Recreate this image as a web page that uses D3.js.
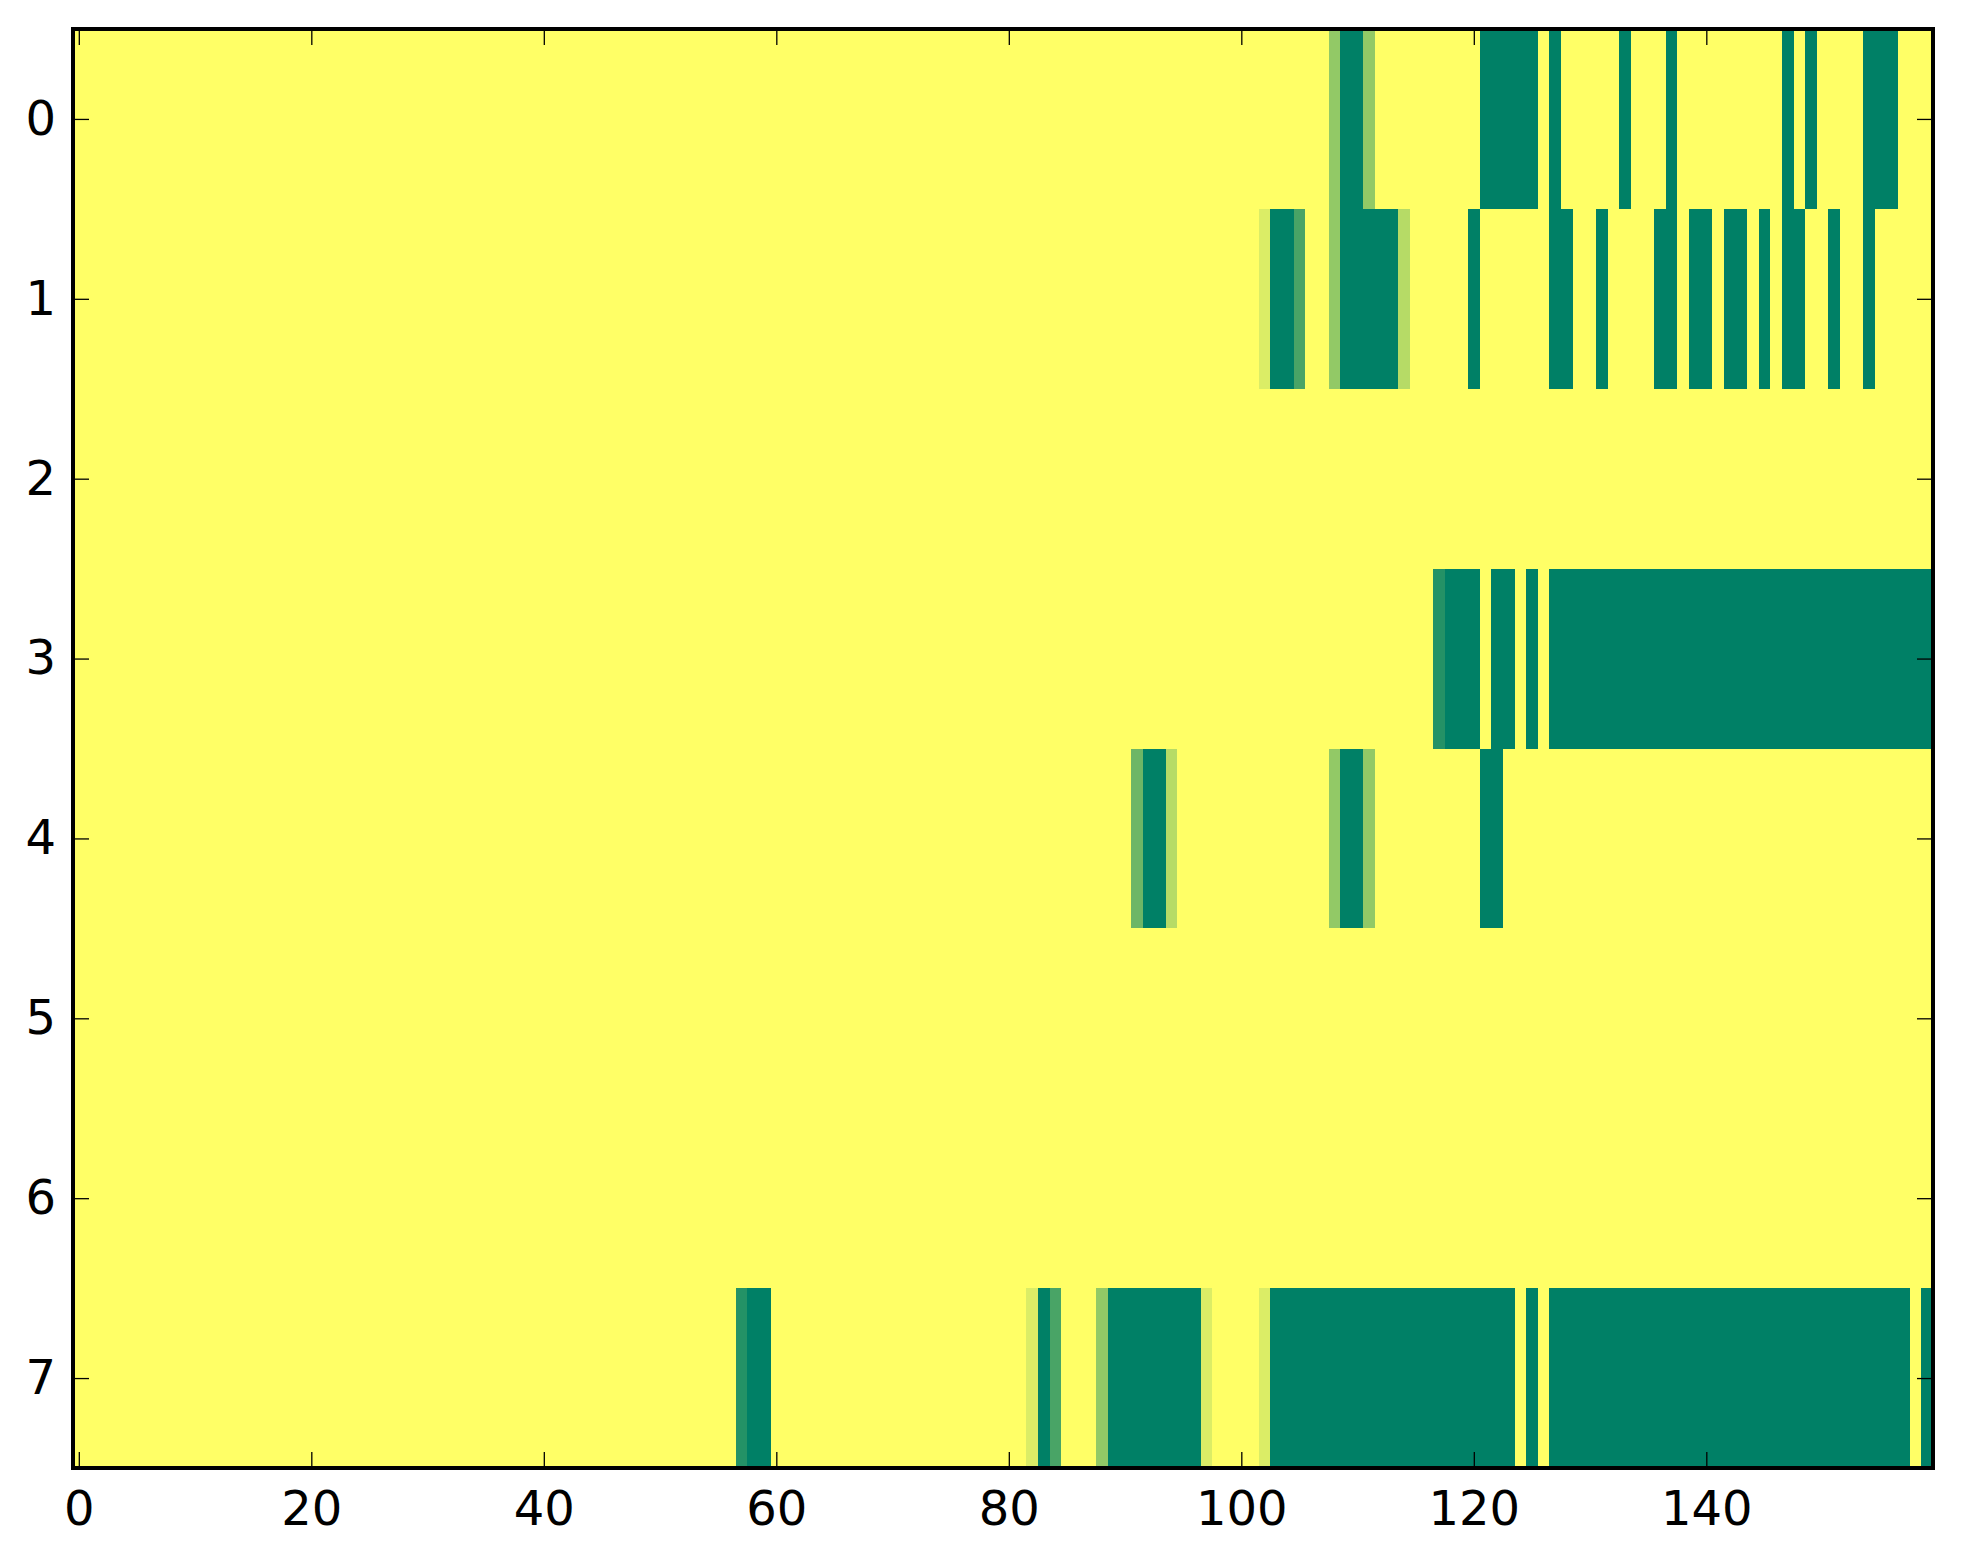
<!DOCTYPE html>
<html>
<head>
<meta charset="utf-8">
<script src="https://cdn.jsdelivr.net/npm/d3@7"></script>
<style>
  body { margin: 0; background: #fff; }
  text { font-family: "DejaVu Sans", sans-serif; }
</style>
</head>
<body>
<script>
// each row: 160 cells, digit = level 0..7 (0 = yellow, 7 = dark green)
const zeros = "0000000000";
const row0 = [zeros, zeros, zeros, zeros, zeros, zeros, zeros, zeros, zeros, zeros,
  "0000000037", "7300000000", "0777770700", "0007000700", "0000000707", "0000777000"].join("");
const row1 = [zeros, zeros, zeros, zeros, zeros, zeros, zeros, zeros, zeros, zeros,
  "0017750037", "7777200000", "7000000770", "0700007707", "7077070770", "0700700000"].join("");
const row2 = [zeros, zeros, zeros, zeros, zeros, zeros, zeros, zeros, zeros, zeros,
  zeros, zeros, zeros, zeros, zeros, zeros].join("");
const row3 = [zeros, zeros, zeros, zeros, zeros, zeros, zeros, zeros, zeros, zeros,
  zeros, "0000000677", "7077070777", "7777777777", "7777777777", "7777777777"].join("");
const row4 = [zeros, zeros, zeros, zeros, zeros, zeros, zeros, zeros, zeros, "0477200000",
  "0000000037", "7300000000", "0770000000", zeros, zeros, zeros].join("");
const row5 = row2;
const row6 = row2;
const row7 = [zeros, zeros, zeros, zeros, zeros, "0000000677", zeros, zeros, "0017500037", "7777777100",
  "0017777777", "7777777777", "7777070777", "7777777777", "7777777777", "7777777707"].join("");

const rows = [row0, row1, row2, row3, row4, row5, row6, row7];
const xTicks = [0, 20, 40, 60, 80, 100, 120, 140];
const yTicks = [0, 1, 2, 3, 4, 5, 6, 7];

const W = 1963, H = 1564;
const plotL = 73, plotR = 1933, plotT = 29, plotB = 1468;
const nCols = rows[0].length;

const svg = d3.select("body").append("svg")
  .attr("width", W)
  .attr("height", H);

const xBand = d3.scaleBand().domain(d3.range(nCols)).range([plotL, plotR]);
const yBand = d3.scaleBand().domain(d3.range(rows.length)).range([plotT, plotB]);
const xLin = d3.scaleLinear().domain([-0.5, nCols - 0.5]).range([plotL, plotR]);
const yLin = d3.scaleLinear().domain([-0.5, rows.length - 0.5]).range([plotT, plotB]);

// summer_r
const color = d3.scaleLinear().domain([0, 7]).range(["#ffff66", "#008066"]);

const cells = [];
rows.forEach((r, i) => {
  for (let j = 0; j < r.length; j++) cells.push({ row: i, col: j, v: +r[j] });
});

svg.append("g")
  .selectAll("rect")
  .data(cells)
  .enter()
  .append("rect")
  .attr("x", d => xBand(d.col))
  .attr("y", d => yBand(d.row))
  .attr("width", xBand.bandwidth() + 0.5)
  .attr("height", yBand.bandwidth() + 0.5)
  .attr("fill", d => color(d.v))
  .attr("shape-rendering", "crispEdges");

const tickLen = 16;

const styleAxis = g => {
  g.select(".domain").remove();
  g.selectAll(".tick line").attr("stroke", "#000").attr("stroke-width", 1.3);
  g.selectAll(".tick text").attr("fill", "#000").attr("font-size", 48)
    .attr("font-family", "DejaVu Sans, sans-serif");
};

// inward ticks: the label offset is only the padding
svg.append("g")
  .attr("transform", `translate(0,${plotB})`)
  .call(d3.axisBottom(xLin).tickValues(xTicks).tickSizeInner(-tickLen).tickSizeOuter(0).tickPadding(23))
  .call(styleAxis);

svg.append("g")
  .attr("transform", `translate(0,${plotT})`)
  .call(d3.axisTop(xLin).tickValues(xTicks).tickSizeInner(-tickLen).tickSizeOuter(0).tickFormat(""))
  .call(styleAxis);

svg.append("g")
  .attr("transform", `translate(${plotL},0)`)
  .call(d3.axisLeft(yLin).tickValues(yTicks).tickSizeInner(-tickLen).tickSizeOuter(0).tickPadding(17))
  .call(styleAxis);

svg.append("g")
  .attr("transform", `translate(${plotR},0)`)
  .call(d3.axisRight(yLin).tickValues(yTicks).tickSizeInner(-tickLen).tickSizeOuter(0).tickFormat(""))
  .call(styleAxis);

// frame
svg.append("rect")
  .attr("x", plotL)
  .attr("y", plotT)
  .attr("width", plotR - plotL)
  .attr("height", plotB - plotT)
  .attr("fill", "none")
  .attr("stroke", "#000")
  .attr("stroke-width", 4);
</script>
</body>
</html>
